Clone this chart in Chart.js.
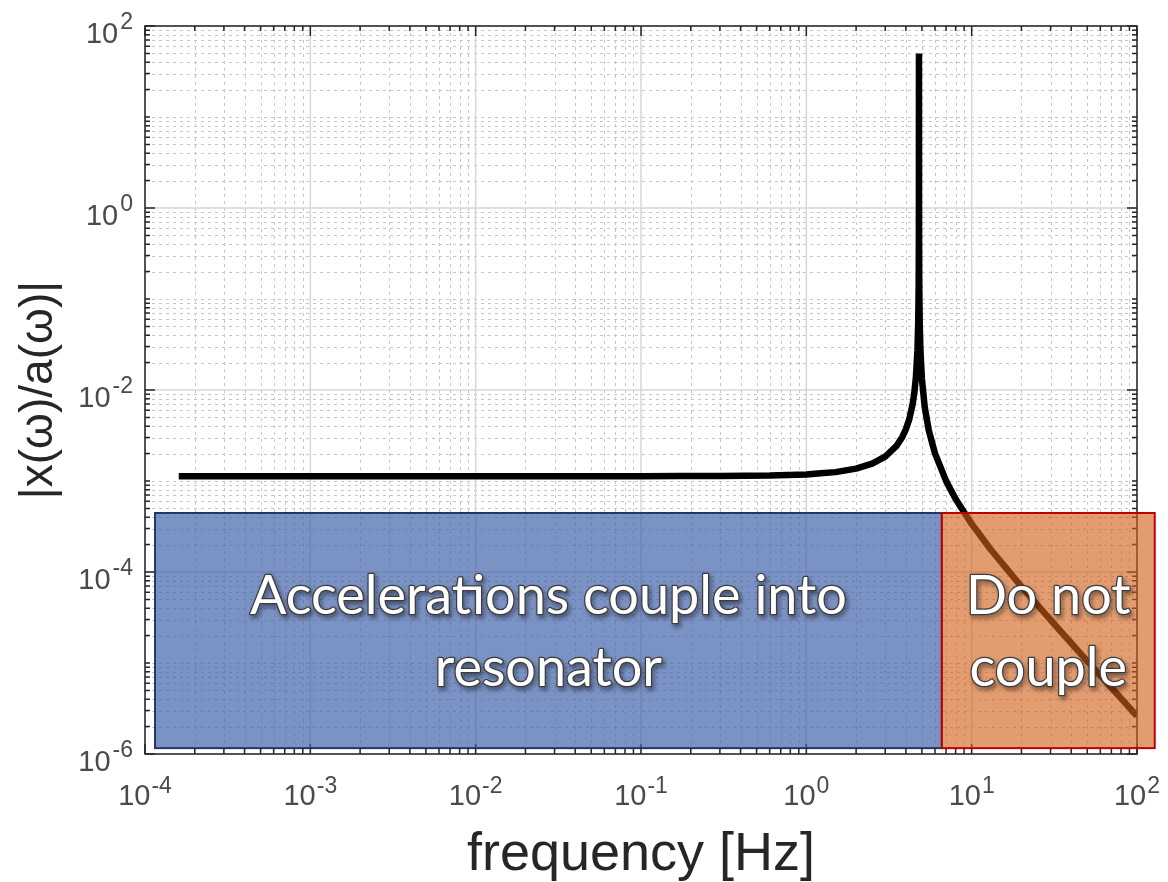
<!DOCTYPE html>
<html>
<head>
<meta charset="utf-8">
<script src="https://cdn.jsdelivr.net/npm/chart.js@4.4.1/dist/chart.umd.min.js"></script>
<style>
  html, body { margin: 0; padding: 0; background: #fff; }
  #wrap { width: 1168px; height: 882px; position: relative; }
</style>
</head>
<body>
<div id="wrap"><canvas id="respChart"></canvas></div>
<script>
// values
const freqHz = [1.6e-4, 1e-3, 1e-2, 0.1, 0.3, 0.6, 1, 1.5, 2, 2.5, 3, 3.5, 3.8, 4.0, 4.2, 4.4, 4.5, 4.6, 4.7, 4.75, 4.78, 4.795, 4.8,
  4.805, 4.82, 4.85, 4.9, 5.0, 5.2, 5.5, 6, 7, 8, 10, 13, 20, 30, 50, 70, 100];
const amplitude = [1.13e-3, 1.13e-3, 1.13e-3, 1.131e-3, 1.135e-3, 1.148e-3, 1.181e-3, 1.252e-3, 1.367e-3, 1.551e-3, 1.854e-3, 2.414e-3,
  3.03e-3, 3.70e-3, 4.82e-3, 7.07e-3, 9.33e-3, 1.385e-2, 2.74e-2, 5.46e-2, 0.136, 0.543, 50,
  0.543, 0.135, 5.41e-2, 2.68e-2, 1.328e-2, 6.51e-3, 3.61e-3, 2.01e-3, 1.003e-3, 6.35e-4, 3.38e-4, 1.78e-4, 6.91e-5, 2.97e-5, 1.05e-5, 5.34e-6, 2.61e-6];
const xTickExp = [-4, -3, -2, -1, 0, 1, 2];
const yTickExp = [-6, -4, -2, 0, 2];
// shaded regions: [xFrom, xTo, yFrom, yTo] in data units
const coupleBand = [1.15e-4, 6.6, 1.16e-6, 4.45e-4];
const noCoupleBand = [6.6, 128, 1.16e-6, 4.45e-4];
const coupleText = ['Accelerations couple into', 'resonator'];
const noCoupleText = ['Do not', 'couple'];

const xTitle = 'frequency [Hz]';
const yTitle = '|x(\u03c9)/a(\u03c9)|';

function supText(n) {
  return n < 0 ? '-' + Math.abs(n) : String(n);
}

// draws the matlab style grid, box, ticks and labels
const matlabAxes = {
  id: 'matlabAxes',
  beforeDatasetsDraw(chart) {
    const ctx = chart.ctx, a = chart.chartArea;
    const xs = chart.scales.x, ys = chart.scales.y;
    ctx.save();
    // minor grid
    ctx.strokeStyle = '#c6c6c6';
    ctx.lineWidth = 1;
    ctx.setLineDash([3, 4]);
    ctx.beginPath();
    for (let e = -4; e < 2; e++) {
      for (let k = 2; k <= 9; k++) {
        const x = Math.round(xs.getPixelForValue(k * Math.pow(10, e))) + 0.5;
        ctx.moveTo(x, a.top); ctx.lineTo(x, a.bottom);
      }
    }
    for (let e = -6; e < 2; e++) {
      for (let k = 1; k <= 9; k++) {
        if (k == 1 && yTickExp.includes(e)) continue;
        const y = Math.round(ys.getPixelForValue(k * Math.pow(10, e))) + 0.5;
        ctx.moveTo(a.left, y); ctx.lineTo(a.right, y);
      }
    }
    ctx.stroke();
    // major grid
    ctx.setLineDash([]);
    ctx.strokeStyle = '#d6d6d6';
    ctx.lineWidth = 1.5;
    ctx.beginPath();
    xTickExp.forEach(e => {
      const x = xs.getPixelForValue(Math.pow(10, e));
      ctx.moveTo(x, a.top); ctx.lineTo(x, a.bottom);
    });
    yTickExp.forEach(e => {
      const y = ys.getPixelForValue(Math.pow(10, e));
      ctx.moveTo(a.left, y); ctx.lineTo(a.right, y);
    });
    ctx.stroke();
    ctx.restore();
  },
  afterDatasetsDraw(chart) {
    const ctx = chart.ctx, a = chart.chartArea;
    const xs = chart.scales.x, ys = chart.scales.y;
    ctx.save();
    // box
    ctx.strokeStyle = '#262626';
    ctx.lineWidth = 1.5;
    ctx.strokeRect(a.left, a.top, a.right - a.left, a.bottom - a.top);
    // ticks
    ctx.beginPath();
    for (let e = -4; e <= 2; e++) {
      for (let k = 1; k <= 9; k++) {
        if (e == 2 && k > 1) break;
        const x = xs.getPixelForValue(k * Math.pow(10, e));
        const len = k == 1 ? 10 : 5;
        ctx.moveTo(x, a.bottom); ctx.lineTo(x, a.bottom - len);
        ctx.moveTo(x, a.top); ctx.lineTo(x, a.top + len);
      }
    }
    for (let e = -6; e <= 2; e++) {
      for (let k = 1; k <= 9; k++) {
        if (e == 2 && k > 1) break;
        const y = ys.getPixelForValue(k * Math.pow(10, e));
        const len = (k == 1 && yTickExp.includes(e)) ? 10 : 5;
        ctx.moveTo(a.left, y); ctx.lineTo(a.left + len, y);
        ctx.moveTo(a.right, y); ctx.lineTo(a.right - len, y);
      }
    }
    ctx.stroke();

    // tick labels
    const baseFont = '29px "Liberation Sans", Arial, sans-serif';
    const expFont = '23px "Liberation Sans", Arial, sans-serif';
    ctx.fillStyle = '#4a4a4a';
    ctx.textBaseline = 'alphabetic';
    ctx.textAlign = 'left';
    xTickExp.forEach(e => {
      const x = xs.getPixelForValue(Math.pow(10, e));
      ctx.font = baseFont;
      const bw = ctx.measureText('10').width;
      ctx.font = expFont;
      const ew = ctx.measureText(supText(e)).width;
      const x0 = x - (bw + ew + 1) / 2;
      ctx.font = baseFont;
      ctx.fillText('10', x0, a.bottom + 51);
      ctx.font = expFont;
      ctx.fillText(supText(e), x0 + bw + 1, a.bottom + 39);
    });
    yTickExp.forEach(e => {
      const y = ys.getPixelForValue(Math.pow(10, e));
      const right = a.left - 12;
      ctx.font = expFont;
      const ew = ctx.measureText(supText(e)).width;
      ctx.fillText(supText(e), right - ew, y + 3);
      ctx.font = baseFont;
      const bw = ctx.measureText('10').width;
      ctx.fillText('10', right - ew - 2 - bw, y + 17);
    });

    // axis titles
    ctx.fillStyle = '#262626';
    ctx.textAlign = 'center';
    ctx.font = '54px "Liberation Sans", Arial, sans-serif';
    ctx.fillText(xTitle, 641, 870);
    ctx.save();
    ctx.translate(39, 390);
    ctx.rotate(-Math.PI / 2);
    ctx.textBaseline = 'middle';
    ctx.font = '46px "Liberation Sans", Arial, sans-serif';
    ctx.fillText(yTitle, 0, 0);
    ctx.restore();

    // shaded regions
    drawBand(chart, coupleBand, 'rgba(60, 95, 168, 0.68)', '#1f3864', coupleText);
    drawBand(chart, noCoupleBand, 'rgba(210, 95, 25, 0.62)', '#c00000', noCoupleText);
    ctx.restore();
  }
};

function drawBand(chart, band, fill, border, lines) {
  const ctx = chart.ctx;
  const xs = chart.scales.x, ys = chart.scales.y;
  const x1 = xs.getPixelForValue(band[0]), x2 = xs.getPixelForValue(band[1]);
  const y1 = ys.getPixelForValue(band[3]), y2 = ys.getPixelForValue(band[2]);
  ctx.save();
  ctx.fillStyle = fill;
  ctx.fillRect(x1, y1, x2 - x1, y2 - y1);
  ctx.strokeStyle = border;
  ctx.lineWidth = 2;
  ctx.strokeRect(x1, y1, x2 - x1, y2 - y1);
  // label
  const cx = (x1 + x2) / 2, cy = (y1 + y2) / 2;
  ctx.font = '54px Lato, "Open Sans", sans-serif';
  ctx.textAlign = 'center';
  ctx.textBaseline = 'alphabetic';
  lines.forEach((t, i) => {
    const by = cy - 17 + i * 72;
    ctx.shadowColor = 'rgba(0,0,0,0.55)';
    ctx.shadowOffsetX = 2;
    ctx.shadowOffsetY = 3;
    ctx.shadowBlur = 4;
    ctx.strokeStyle = '#3c3c3c';
    ctx.lineWidth = 2.5;
    ctx.lineJoin = 'round';
    ctx.strokeText(t, cx, by);
    ctx.shadowColor = 'transparent';
    ctx.fillStyle = '#ffffff';
    ctx.fillText(t, cx, by);
  });
  ctx.restore();
}

const points = freqHz.map((f, i) => ({ x: f, y: amplitude[i] }));

const ctx = document.getElementById('respChart').getContext('2d');
const respChart = new Chart(ctx, {
  type: 'line',
  data: {
    datasets: [{
      label: 'response',
      data: points,
      borderColor: '#000000',
      borderWidth: 6.5,
      borderCapStyle: 'butt',
      borderJoinStyle: 'bevel',
      pointRadius: 0,
      tension: 0.0001, // keeps the spike from the fast path merge
      fill: false
    }]
  },
  options: {
    responsive: true,
    maintainAspectRatio: false,
    animation: false,
    layout: { padding: { left: 145, right: 31, top: 26, bottom: 128 } },
    plugins: { legend: { display: false }, tooltip: { enabled: false } },
    scales: {
      x: { type: 'logarithmic', min: 1e-4, max: 100, display: false },
      y: { type: 'logarithmic', min: 1e-6, max: 100, display: false }
    }
  },
  plugins: [matlabAxes]
});
</script>
</body>
</html>
